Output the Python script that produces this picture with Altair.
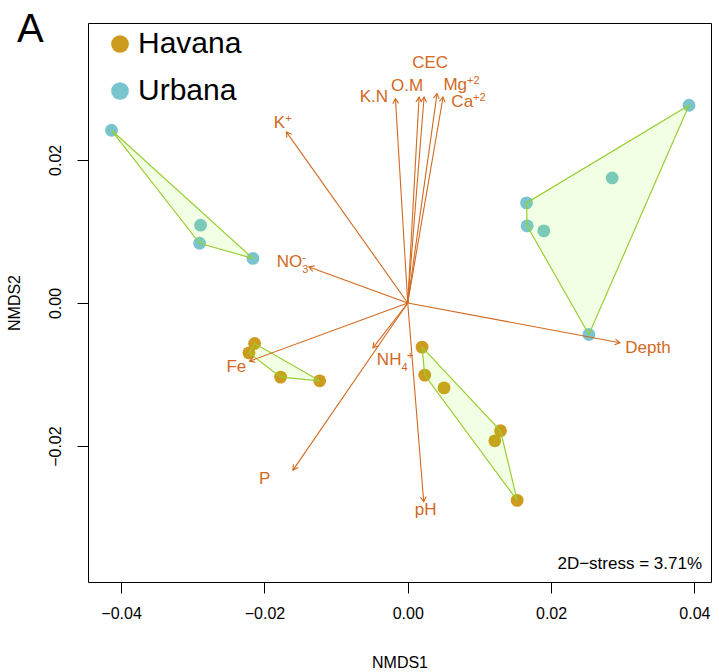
import math
import altair as alt
import pandas as pd

# ---------------- data ----------------
site = ["Urbana"] * 10 + ["Havana"] * 10
group = ["U1"] * 4 + ["U2"] * 6 + ["H1"] * 4 + ["H2"] * 6
nmds1 = [-0.04134, -0.02891, -0.02905, -0.02161,
         0.03925, 0.02853, 0.01658, 0.01666, 0.01899, 0.02528,
         -0.02137, -0.02216, -0.01774, -0.01229,
         0.00200, 0.00237, 0.00507, 0.01295, 0.01215, 0.01527]
nmds2 = [0.02413, 0.01087, 0.00834, 0.00622,
         0.02763, 0.01747, 0.01398, 0.01077, 0.01007, -0.00440,
         -0.00566, -0.00697, -0.01036, -0.01088,
         -0.00617, -0.01008, -0.01186, -0.01786, -0.01926, -0.02758]

env_names = ["K.N", "O.M", "CEC", "Mg+2", "Ca+2", "K+", "NO3-", "Fe", "P", "NH4+", "pH", "Depth"]
env_x = [-0.00172, 0.00158, 0.00228, 0.00409, 0.00493, -0.01694, -0.01378, -0.02207, -0.01602, -0.00485, 0.00223, 0.02961]
env_y = [0.02856, 0.02878, 0.02878, 0.02926, 0.02878, 0.02390, 0.00504, -0.00813, -0.02335, -0.00627, -0.02778, -0.00557]

label_base = ["K.N", "O.M", "CEC", "Mg", "Ca", "K", "NO", "Fe", "P", "NH", "pH", "Depth"]
label_sup = ["", "", "", "+2", "+2", "+", "-", "", "", "+", "", ""]
label_sub = ["", "", "", "", "", "", "3", "", "", "4", "", ""]
label_x = [-0.00275, 0.00214, 0.00563, 0.00828, 0.00912, -0.01711, -0.01471, -0.02253, -0.01918, -0.00088, 0.00401, 0.03669]
label_y = [0.02874, 0.03038, 0.03353, 0.03052, 0.02804, 0.02518, 0.00574, -0.00892, -0.02461, -0.00795, -0.02894, -0.00635]
label_sup_x = [-0.00275, 0.00214, 0.00563, 0.00828, 0.00912, -0.01711, -0.01471, -0.02253, -0.01918, -0.00012, 0.00401, 0.03669]

site_names = ["Havana", "Urbana"]
site_colors = ["#CD9B1D", "#7AC5CD"]
stress_text = "2D\u2212stress = 3.71%"
panel_tag = "A"

X_DOMAIN = [-0.04462, 0.04232]
Y_DOMAIN = [-0.03899, 0.03912]
W, H = 623, 559

ORANGE = "#D2691E"
FONT = "Liberation Sans"

# ---------------- derived tables ----------------
pts = pd.DataFrame({"site": site, "group": group, "x": nmds1, "y": nmds2})


def convex_hull(p):
    p = sorted(set(p))
    if len(p) <= 2:
        return p

    def cross(o, a, b):
        return (a[0] - o[0]) * (b[1] - o[1]) - (a[1] - o[1]) * (b[0] - o[0])

    lower, upper = [], []
    for q in p:
        while len(lower) >= 2 and cross(lower[-2], lower[-1], q) <= 0:
            lower.pop()
        lower.append(q)
    for q in reversed(p):
        while len(upper) >= 2 and cross(upper[-2], upper[-1], q) <= 0:
            upper.pop()
        upper.append(q)
    return lower[:-1] + upper[:-1]


hull_rows = []
for g in pts["group"].unique():
    sub = pts[pts["group"] == g]
    hull = convex_hull(list(zip(sub["x"], sub["y"])))
    for i, (hx, hy) in enumerate(hull):
        hull_rows.append({"group": g, "order": i, "x": hx, "y": hy})
hull_df = pd.DataFrame(hull_rows)

kx = W / (X_DOMAIN[1] - X_DOMAIN[0])
ky = H / (Y_DOMAIN[1] - Y_DOMAIN[0])
angles = [math.degrees(math.atan2(-ey * ky, ex * kx)) % 360 for ex, ey in zip(env_x, env_y)]
env = pd.DataFrame({"name": env_names, "ox": [0.0] * len(env_names), "oy": [0.0] * len(env_names),
                    "x": env_x, "y": env_y, "angle": angles})
labels = pd.DataFrame({"base": label_base, "sup": label_sup, "sub": label_sub, "x": label_x,
                       "y": label_y, "supx": label_sup_x})

# ---------------- encodings ----------------
xscale = alt.Scale(domain=X_DOMAIN, nice=False, zero=False)
yscale = alt.Scale(domain=Y_DOMAIN, nice=False, zero=False)
x_axis = alt.Axis(values=[-0.04, -0.02, 0.0, 0.02, 0.04], format=".2f", grid=False, domain=False,
                  tickSize=11, tickColor="black", labelPadding=12, labelFontSize=16, labelFont=FONT,
                  labelColor="black", titleFontSize=16, titleFont=FONT, titleFontWeight="normal",
                  titleColor="black", titleY=80, titleBaseline="middle", labelFlush=False)
y_axis = alt.Axis(values=[-0.02, 0.0, 0.02], format=".2f", grid=False, domain=False,
                  tickSize=11, tickColor="black", labelPadding=14, labelFontSize=16, labelFont=FONT,
                  labelColor="black", labelAngle=270, labelAlign="center", labelBaseline="bottom",
                  titleFontSize=16, titleFont=FONT, titleFontWeight="normal", titleColor="black",
                  titleAngle=270, titleX=-74, titleBaseline="middle", labelFlush=False)


def X(field):
    return alt.X(field, type="quantitative", scale=xscale, axis=x_axis, title="NMDS1")


def Y(field):
    return alt.Y(field, type="quantitative", scale=yscale, axis=y_axis, title="NMDS2")


points = alt.Chart(pts).mark_circle(size=165, opacity=1, strokeWidth=0).encode(
    x=X("x"), y=Y("y"),
    color=alt.Color("site:N", scale=alt.Scale(domain=site_names, range=site_colors),
                    legend=alt.Legend(title=None, orient="none", legendX=17, legendY=6,
                                      symbolType="circle", symbolSize=314, symbolStrokeWidth=0,
                                      labelFontSize=30, labelFont=FONT, labelColor="black",
                                      rowPadding=17, labelOffset=3, padding=0)),
)

hulls = alt.Chart(hull_df).mark_line(
    interpolate="linear-closed", fill="#7FFF00", fillOpacity=0.1, stroke="#9ACD32", strokeWidth=1.2
).encode(x=X("x"), y=Y("y"), detail="group:N", order="order:Q")

arrows = alt.Chart(env).mark_rule(color=ORANGE, strokeWidth=1.1).encode(
    x=X("ox"), y=Y("oy"), x2="x", y2="y")

heads = alt.Chart(env).mark_point(
    shape="M-1,-0.58L0,0L-1,0.58", filled=False, color=ORANGE, strokeWidth=1.1, size=100, opacity=1
).encode(x=X("x"), y=Y("y"), angle=alt.Angle("angle:Q", scale=None))

base_txt = alt.Chart(labels).mark_text(
    align="right", baseline="middle", fontSize=17, font=FONT, color=ORANGE
).encode(x=X("x"), y=Y("y"), text="base:N")

sup_txt = alt.Chart(labels).transform_filter("datum.sup != ''").mark_text(
    align="left", baseline="middle", fontSize=11, font=FONT, color=ORANGE, dy=-4
).encode(x=X("supx"), y=Y("y"), text="sup:N")

sub_txt = alt.Chart(labels).transform_filter("datum.sub != ''").mark_text(
    align="left", baseline="middle", fontSize=11, font=FONT, color=ORANGE, dy=8
).encode(x=X("x"), y=Y("y"), text="sub:N")

ann = pd.DataFrame({"stress": [stress_text], "tag": [panel_tag]})
stress = alt.Chart(ann).mark_text(
    align="right", baseline="middle", fontSize=17, font=FONT, color="black"
).encode(x=alt.value(614), y=alt.value(541), text="stress:N")

tag = alt.Chart(ann).mark_text(
    align="left", baseline="alphabetic", fontSize=40, font=FONT, color="black"
).encode(x=alt.value(-71), y=alt.value(19), text="tag:N")

chart = alt.layer(points, hulls, arrows, heads, base_txt, sup_txt, sub_txt, stress, tag).properties(
    width=W, height=H,
    autosize=alt.AutoSizeParams(type="none"),
    padding={"left": 88, "top": 23, "right": 8, "bottom": 90},
    background="white",
).configure_view(stroke="black", strokeWidth=1)

chart.save("out.html", embed_options={"renderer": "svg", "actions": False})
